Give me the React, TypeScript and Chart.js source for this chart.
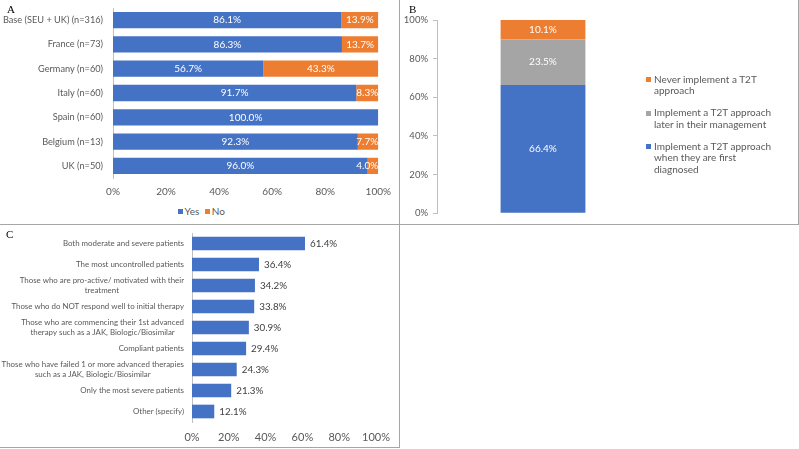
import React, { useEffect, useRef } from 'react';
import { Chart, registerables } from 'chart.js';

Chart.register(...registerables);

const FONT = 'Lato, "Open Sans", sans-serif';
const SERIF = '"Liberation Serif", "DejaVu Serif", serif';
const TEXT = '#595959';
const BLUE = '#4472C4';
const ORANGE = '#ED7D31';
const GRAY = '#A5A5A5';
const AXIS = '#BFBFBF';
const FRAME = '#A6A6A6';

// ---------- Panel A ----------
const A_CATEGORIES = [
  'Base (SEU + UK) (n=316)',
  'France (n=73)',
  'Germany (n=60)',
  'Italy (n=60)',
  'Spain (n=60)',
  'Belgium (n=13)',
  'UK (n=50)',
];
const A_YES = [86.1, 86.3, 56.7, 91.7, 100.0, 92.3, 96.0];
const A_NO = [13.9, 13.7, 43.3, 8.3, 0, 7.7, 4.0];
const A_SERIES = ['Yes', 'No'];

// ---------- Panel B ----------
const B_CATEGORY = [''];
const B_FIRST = [66.4];
const B_LATER = [23.5];
const B_NEVER = [10.1];
const B_SERIES = [
  ['Implement a T2T approach', 'when they are first', 'diagnosed'],
  ['Implement a T2T approach', 'later in their management'],
  ['Never implement a T2T', 'approach'],
];

// ---------- Panel C ----------
const C_CATEGORIES: string[][] = [
  ['Both moderate and severe patients'],
  ['The most uncontrolled patients'],
  ['Those who are pro-active/ motivated with their', 'treatment'],
  ['Those who do NOT respond well to initial therapy'],
  ['Those who are commencing their 1st advanced', 'therapy such as a JAK, Biologic/Biosimilar'],
  ['Compliant patients'],
  ['Those who have failed 1 or more advanced therapies', 'such as a JAK, Biologic/Biosimilar'],
  ['Only the most severe patients'],
  ['Other (specify)'],
];
const C_VALUES = [61.4, 36.4, 34.2, 33.8, 30.9, 29.4, 24.3, 21.3, 12.1];

const pct = (v: any) => v + '%';

function valueLabels(mode: 'center' | 'end', color: string, size: number) {
  return {
    id: 'valueLabels',
    afterDatasetsDraw(chart: any) {
      const ctx = chart.ctx;
      ctx.save();
      ctx.font = `${size}px ${FONT}`;
      ctx.fillStyle = color;
      ctx.textBaseline = 'middle';
      const horizontal = chart.options.indexAxis === 'y';
      chart.data.datasets.forEach((ds: any, di: number) => {
        const meta = chart.getDatasetMeta(di);
        meta.data.forEach((el: any, i: number) => {
          const v = ds.data[i] as number;
          if (!v) return;
          const text = v.toFixed(1) + '%';
          const w = ctx.measureText(text).width;
          if (mode === 'center') {
            ctx.textAlign = 'center';
            if (horizontal) {
              let x = (el.x + el.base) / 2;
              x = Math.min(x, chart.chartArea.right - w / 2);
              ctx.fillText(text, x, el.y);
            } else {
              ctx.fillText(text, el.x, (el.y + el.base) / 2);
            }
          } else {
            ctx.textAlign = 'left';
            ctx.fillText(text, el.x + 5, el.y);
          }
        });
      });
      ctx.restore();
    },
  };
}

// Category labels on the y axis: each block right-aligned, lines of a block centred on each other
function categoryLabels(size: number, lineHeight: number, gap: number) {
  return {
    id: 'categoryLabels',
    afterDraw(chart: any) {
      const scale = chart.scales.y;
      const ctx = chart.ctx;
      ctx.save();
      ctx.font = `${size}px ${FONT}`;
      ctx.fillStyle = TEXT;
      ctx.textAlign = 'center';
      ctx.textBaseline = 'middle';
      const right = scale.right - gap;
      (chart.data.labels as any[]).forEach((lab, i) => {
        const lines: string[] = Array.isArray(lab) ? lab : [lab];
        const y = scale.getPixelForTick(i);
        const w = Math.max(...lines.map((l) => ctx.measureText(l).width));
        const cx = right - w / 2;
        lines.forEach((l, j) => ctx.fillText(l, cx, y + (j - (lines.length - 1) / 2) * lineHeight));
      });
      ctx.restore();
    },
  };
}

function configA(): any {
  return {
    type: 'bar',
    data: {
      labels: A_CATEGORIES,
      datasets: [
        { label: A_SERIES[0], data: A_YES, backgroundColor: BLUE, barPercentage: 0.67, categoryPercentage: 1 },
        { label: A_SERIES[1], data: A_NO, backgroundColor: ORANGE, barPercentage: 0.67, categoryPercentage: 1 },
      ],
    },
    options: {
      indexAxis: 'y',
      responsive: false,
      maintainAspectRatio: false,
      animation: false,
      layout: { padding: { top: 8, right: 20, left: 0, bottom: 0 } },
      plugins: { legend: { display: false }, tooltip: { enabled: false } },
      scales: {
        x: {
          stacked: true,
          min: 0,
          max: 100,
          ticks: { stepSize: 20, callback: pct, color: TEXT, font: { family: FONT, size: 10 }, padding: 8 },
          grid: { display: false, drawTicks: false },
          border: { display: false },
          afterFit: (s: any) => { s.height = 26; },
        },
        y: {
          stacked: true,
          grid: { display: false, drawTicks: false },
          border: { display: true, color: AXIS },
          ticks: { display: false },
          afterFit: (s: any) => { s.width = 113; },
        },
      },
    },
    plugins: [valueLabels('center', '#FFFFFF', 10), categoryLabels(9.2, 11, 10)],
  };
}

function configB(): any {
  const colors = [BLUE, GRAY, ORANGE];
  const values = [B_FIRST, B_LATER, B_NEVER];
  return {
    type: 'bar',
    data: {
      labels: B_CATEGORY,
      datasets: values.map((d, i) => ({
        label: B_SERIES[i].join(' '),
        data: d,
        backgroundColor: colors[i],
        barPercentage: 0.4,
        categoryPercentage: 1,
      })),
    },
    options: {
      responsive: false,
      maintainAspectRatio: false,
      animation: false,
      layout: { padding: { top: 20, bottom: 10, left: 0, right: 12 } },
      plugins: { legend: { display: false }, tooltip: { enabled: false } },
      scales: {
        x: { stacked: true, display: false },
        y: {
          stacked: true,
          min: 0,
          max: 100,
          ticks: { stepSize: 20, callback: pct, color: TEXT, font: { family: FONT, size: 9.5 }, padding: 5 },
          grid: { drawOnChartArea: false, drawTicks: true, tickLength: 4, color: AXIS },
          border: { display: true, color: AXIS },
          afterFit: (s: any) => { s.width = 38; },
        },
      },
    },
    plugins: [valueLabels('center', '#FFFFFF', 10)],
  };
}

function configC(): any {
  return {
    type: 'bar',
    data: {
      labels: C_CATEGORIES,
      datasets: [{ data: C_VALUES, backgroundColor: BLUE, barPercentage: 0.65, categoryPercentage: 1 }],
    },
    options: {
      indexAxis: 'y',
      responsive: false,
      maintainAspectRatio: false,
      animation: false,
      layout: { padding: { top: 9, right: 22, left: 0, bottom: 0 } },
      plugins: { legend: { display: false }, tooltip: { enabled: false } },
      scales: {
        x: {
          min: 0,
          max: 100,
          ticks: { stepSize: 20, callback: pct, color: TEXT, font: { family: FONT, size: 11 }, padding: 9 },
          grid: { display: false, drawTicks: false },
          border: { display: false },
          afterFit: (s: any) => { s.height = 25; },
        },
        y: {
          grid: { display: false, drawTicks: false },
          border: { display: true, color: AXIS },
          ticks: { display: false },
          afterFit: (s: any) => { s.width = 192; },
        },
      },
    },
    plugins: [valueLabels('end', '#404040', 9.8), categoryLabels(7.9, 10.3, 8)],
  };
}

const abs = (left: number, top: number, width: number, height: number, extra: any = {}) => ({
  position: 'absolute' as const, left, top, width, height, ...extra,
});

export default function App() {
  const aRef = useRef<HTMLCanvasElement>(null);
  const bRef = useRef<HTMLCanvasElement>(null);
  const cRef = useRef<HTMLCanvasElement>(null);

  useEffect(() => {
    const charts = [
      new Chart(aRef.current!, configA()),
      new Chart(bRef.current!, configB()),
      new Chart(cRef.current!, configC()),
    ];
    return () => charts.forEach((c) => c.destroy());
  }, []);

  const letter = (t: string, left: number, top: number) => (
    <div style={{ position: 'absolute', left, top, fontFamily: SERIF, fontSize: 11, lineHeight: '12px', color: '#000' }}>{t}</div>
  );

  const bColors = [BLUE, GRAY, ORANGE];
  const bLegendOrder = [2, 1, 0];

  return (
    <div style={{ position: 'fixed', left: 0, top: 0, width: 799, height: 449, background: '#fff', overflow: 'hidden' }}>
      <canvas ref={aRef} width={399} height={204} style={abs(0, 0, 399, 204)} />
      <canvas ref={bRef} width={262} height={224} style={abs(399, 0, 262, 224)} />
      <canvas ref={cRef} width={399} height={223} style={abs(0, 224, 399, 223)} />

      {/* Panel A legend */}
      <div style={{ position: 'absolute', left: 0, width: 399, top: 205, display: 'flex', justifyContent: 'center', paddingLeft: 4, boxSizing: 'border-box', fontFamily: FONT, fontSize: 10, lineHeight: '13px', color: TEXT }}>
        {A_SERIES.map((s, i) => (
          <div key={s} style={{ display: 'flex', alignItems: 'center', marginRight: i === 0 ? 6 : 0 }}>
            <span style={{ display: 'inline-block', width: 5, height: 5, background: i === 0 ? BLUE : ORANGE, marginRight: 1.5 }} />
            <span>{s}</span>
          </div>
        ))}
      </div>

      {/* Panel B legend */}
      <div style={{ position: 'absolute', left: 646, top: 73.5, display: 'flex', flexDirection: 'column', gap: 10.5, fontFamily: FONT, fontSize: 10, lineHeight: '11.5px', color: TEXT }}>
        {bLegendOrder.map((idx) => (
          <div key={idx} style={{ display: 'flex', alignItems: 'flex-start' }}>
            <span style={{ display: 'inline-block', width: 5, height: 5, marginTop: 3.5, marginRight: 3, background: bColors[idx], flex: 'none' }} />
            <div>
              {B_SERIES[idx].map((l) => (
                <div key={l}>{l}</div>
              ))}
            </div>
          </div>
        ))}
      </div>

      {letter('A', 7, 2.5)}
      {letter('B', 409, 2.5)}
      {letter('C', 6, 227.5)}

      {/* frames */}
      <div style={abs(399, 0, 1, 448, { background: FRAME })} />
      <div style={abs(0, 224, 799, 1, { background: FRAME })} />
      <div style={abs(798, 0, 1, 225, { background: FRAME })} />
      <div style={abs(0, 447, 400, 1, { background: FRAME })} />
    </div>
  );
}
